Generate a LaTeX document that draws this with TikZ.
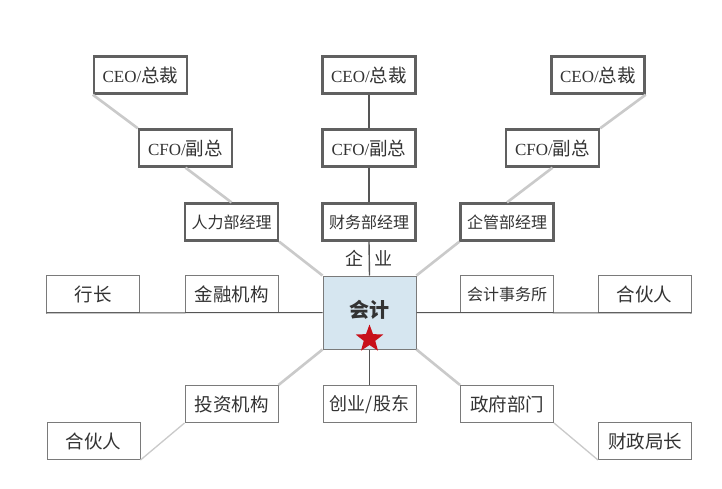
\documentclass[tikz,border=0pt]{standalone}
\usepackage{fontspec}
\setmainfont{Liberation Serif}
\newfontfamily\cjk{Noto Sans CJK SC}
\newcommand\myzh[1]{{\cjk #1}}
\newcommand\mylat[1]{{\fontsize{17}{17}\selectfont #1}}
\usetikzlibrary{shapes.geometric}
\definecolor{boxline}{HTML}{606060}
\definecolor{thinline}{HTML}{7A7A7A}
\definecolor{diagline}{HTML}{CACACA}
\definecolor{darkline}{HTML}{555555}
\definecolor{txt}{HTML}{333333}
\definecolor{accfill}{HTML}{D6E6F0}
\definecolor{starred}{HTML}{C8101A}
\tikzset{
  base/.style={minimum width=93pt, minimum height=37pt, inner sep=0pt, text=txt,
    font=\fontsize{18.5}{19}\selectfont},
  topbox/.style={base, draw=boxline, line width=2.4pt},
  midbox/.style={base, draw=boxline, line width=2.2pt, font=\fontsize{16}{16}\selectfont},
  lowbox/.style={base, draw=thinline, line width=1pt},
  diag/.style={draw=diagline, line width=2.6pt},
  diagthin/.style={draw=diagline, line width=1.3pt},
  vert/.style={draw=darkline, line width=1.4pt},
  horiz/.style={draw=darkline, line width=1pt},
}
\begin{document}
\begin{tikzpicture}[x=1pt,y=-1pt]
\useasboundingbox[fill=white] (0,0) rectangle (722,489);
% top rows
\node[topbox] (ceoL) at (140.5,75) {\mylat{CEO/}\myzh{总裁}};
\node[topbox] (cfoL) at (185.5,148) {\mylat{CFO/}\myzh{副总}};
\node[midbox] (hrL) at (231.5,222) {\myzh{人力部经理}};
\node[topbox] (ceoM) at (369,75) {\mylat{CEO/}\myzh{总裁}};
\node[topbox] (cfoM) at (369,148) {\mylat{CFO/}\myzh{副总}};
\node[midbox] (finM) at (369,222) {\myzh{财务部经理}};
\node[topbox] (ceoR) at (598,75) {\mylat{CEO/}\myzh{总裁}};
\node[topbox] (cfoR) at (552.5,148) {\mylat{CFO/}\myzh{副总}};
\node[midbox] (mgmtR) at (507,222) {\myzh{企管部经理}};
% centre
\node[draw=thinline, line width=1pt, fill=accfill, minimum width=93pt, minimum height=73pt, inner sep=0pt] (acc) at (369.5,312.5) {};
\node[text=txt, font=\fontsize{20}{20}\selectfont\bfseries, inner sep=0pt] (acclabel) at (369.5,310) {\myzh{会计}};
\node[star, star points=5, star point ratio=2.4, fill=starred, minimum size=29pt, inner sep=0pt] (star) at (369.5,339) {};
\node[text=txt, font=\fontsize{18}{18}\selectfont, inner sep=0pt] (qiye) at (369,258) {\myzh{企}\hspace{12pt}\myzh{业}};
% middle row
\node[lowbox] (hang) at (93,294) {\myzh{行长}};
\node[lowbox] (jr) at (231.5,294) {\myzh{金融机构}};
\node[lowbox, font=\fontsize{16}{16}\selectfont] (kj) at (507,294) {\myzh{会计事务所}};
\node[lowbox] (hhR) at (644.5,294) {\myzh{合伙人}};
% bottom rows
\node[lowbox] (tz) at (231.5,404) {\myzh{投资机构}};
\node[lowbox] (hhL) at (93.5,441) {\myzh{合伙人}};
\node[lowbox, font=\fontsize{18}{18}\selectfont] (cy) at (369.5,404) {\myzh{创业/股东}};
\node[lowbox] (zf) at (507,404) {\myzh{政府部门}};
\node[lowbox] (cz) at (645,441) {\myzh{财政局长}};
% connectors
\draw[diag] (ceoL.south west) -- (cfoL.north west);
\draw[diag] (cfoL.south) -- (hrL.north);
\draw[diag] (hrL.south east) -- (acc.north west);
\draw[vert] (ceoM.south) -- (cfoM.north);
\draw[vert] (cfoM.south) -- (finM.north);
\draw[vert] (finM.south) -- (acc.north);
\draw[diag] (ceoR.south east) -- (cfoR.north east);
\draw[diag] (cfoR.south) -- (mgmtR.north);
\draw[diag] (mgmtR.south west) -- (acc.north east);
\draw[horiz] (hang.south west) -- (acc.west);
\draw[horiz] (acc.east) -- (hhR.south east);
\draw[diag] (tz.north east) -- (acc.south west);
\draw[diagthin] (hhL.south east) -- (tz.south west);
\draw[vert] (acc.south) -- (cy.north);
\draw[diag] (acc.south east) -- (zf.north west);
\draw[diagthin] (zf.south east) -- (cz.south west);
\end{tikzpicture}
\end{document}
